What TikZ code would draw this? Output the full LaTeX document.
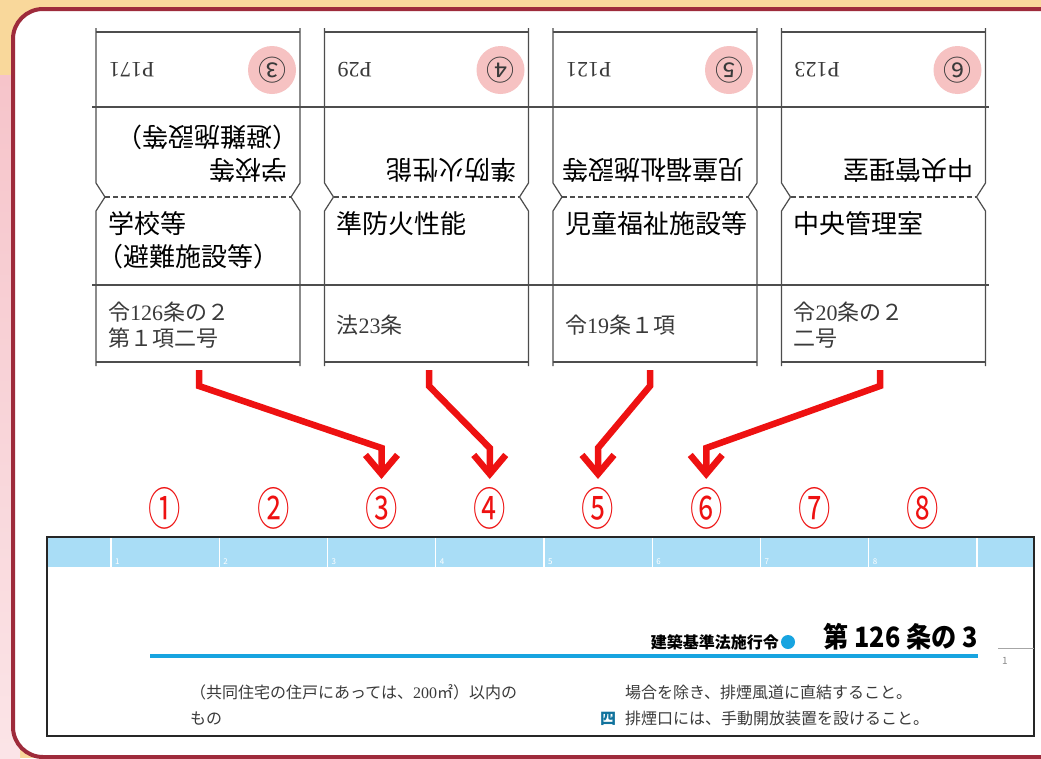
\documentclass[tikz,border=0pt]{standalone}
\usepackage{fontspec}
\setmainfont{Noto Sans CJK JP}
\newfontfamily\serifnum{Liberation Serif}
\usetikzlibrary{positioning,arrows.meta,calc}

\definecolor{bgpeach}{HTML}{F9D89B}
\definecolor{bgpink}{HTML}{F6C4CA}
\definecolor{framered}{HTML}{9E2B3B}
\definecolor{tabgray}{HTML}{4D4D4D}
\definecolor{pagepink}{HTML}{F6C2C2}
\definecolor{arrowred}{HTML}{EE1111}
\definecolor{bandblue}{HTML}{A9DDF6}
\definecolor{titleblue}{HTML}{18A4E0}
\definecolor{bodygray}{HTML}{3A3A3A}

\newcommand{\sn}[1]{{\serifnum #1}}

\begin{document}
\begin{tikzpicture}[x=1pt, y=-1pt,
    tabline/.style={draw=tabgray, line width=1.2pt},
    titletext/.style={anchor=north west, inner sep=0pt, align=left, font=\fontsize{26}{33}\selectfont},
    lawtext/.style={anchor=west, inner sep=0pt, align=left, text=bodygray, font=\fontsize{22}{26}\selectfont},
    pagetext/.style={anchor=east, inner sep=0pt, text=bodygray, font=\serifnum\fontsize{22}{26}\selectfont},
    marktext/.style={inner sep=0pt, text=bodygray, font=\fontsize{28}{28}\selectfont},
    numcirc/.style={inner sep=0pt, text=arrowred, xscale=0.72, font=\fontsize{45}{45}\selectfont},
    redarrow/.style={draw=arrowred, line width=6.5pt, -{Straight Barb[length=19pt, width=32pt]}},
    bodytext/.style={anchor=base west, inner sep=0pt, text=bodygray, font=\fontsize{16}{16}\selectfont}]

    \useasboundingbox (0,0) rectangle (1041,758);

    % background and frame
    \fill[bgpeach] (0,0) rectangle (1041,758);
    \shade[top color=bgpink, bottom color=bgpink!45] (0,75) rectangle (20,758);
    \draw[framered, fill=white, line width=4pt, rounded corners=30pt] (13,9) rectangle (1090,757);

    % tabs: lower face upright, upper face upside down
    \draw[tabline] (92,107) -- (989,107);
    \draw[tabline] (92,285) -- (989,285);
    \foreach \xl/\ttl/\law/\pg/\mk [count=\c] in {
        96/{学校等\\\hspace*{-0.4em}（避難施設等）}/{令\sn{126}条の２\\第１項二号}/P171/③,
        324.5/{準防火性能}/{法\sn{23}条}/P29/④,
        553/{児童福祉施設等}/{令\sn{19}条１項}/P121/⑤,
        781.5/{中央管理室}/{令\sn{20}条の２\\二号}/P123/⑥} {
        \pgfmathsetmacro\xr{\xl+204}
        \draw[tabline] (\xl,28) -- (\xl,183) -- (\xl+9,197) -- (\xl,211) -- (\xl,366);
        \draw[tabline] (\xr,28) -- (\xr,183) -- (\xr-9,197) -- (\xr,211) -- (\xr,366);
        \draw[tabline] (\xl,32) -- (\xr,32);
        \draw[tabline] (\xl,362) -- (\xr,362);
        \draw[tabline, dash pattern=on 5pt off 3pt] (\xl+9,197) -- (\xr-9,197);
        \node[titletext] (t\c) at (\xl+12,211) {\ttl};
        \node[lawtext] (l\c) at (\xl+12,325) {\law};
        \node[titletext, rotate=180] (tu\c) at (\xr-12,183) {\ttl};
        \fill[pagepink] (\xr-28,70) circle (24);
        \node[marktext, rotate=180] (m\c) at (\xr-28,70) {\mk};
        \node[pagetext, rotate=180] (p\c) at (\xl+13,70) {\pg};
    }

    % circled column numbers
    \foreach \k [count=\c] in {①,②,③,④,⑤,⑥,⑦,⑧}
        \node[numcirc] (n\c) at ({165+108.25*(\c-1)},508) {\k};

    % arrows from tabs to columns
    \coordinate (s1) at (199,370);
    \coordinate (s2) at (429,370);
    \coordinate (s3) at (650,370);
    \coordinate (s4) at (880,370);
    \foreach \s/\n in {1/3,2/4,3/5,4/6}
        \draw[redarrow] (s\s) -- ++(0,16) -- ($(n\n)+(0,-60)$) -- ($(n\n)+(0,-29)$);

    % page excerpt
    \fill[bandblue] (48,538) rectangle (1033,567);
    \foreach \k in {0,...,8}
        \draw[white, line width=1.2pt] ({111+108.25*\k},538) -- ++(0,29);
    \foreach \k in {1,...,8}
        \node[anchor=south west, inner sep=1pt, text=white, font=\fontsize{8}{8}\selectfont]
            (b\k) at ({111+108.25*(\k-1)+3},566) {\k};
    \draw[line width=1.5pt, black!85] (47,537) rectangle (1034,736);

    \draw[titleblue, line width=4pt] (150,656) -- (978,656);
    \node[anchor=base east, inner sep=0pt, xscale=0.9, font=\bfseries\fontsize{28}{28}\selectfont] (art) at (978,647) {第 126 条の 3};
    \fill[titleblue] (788,642) circle (7);
    \node[anchor=base east, inner sep=0pt, font=\bfseries\fontsize{16}{16}\selectfont] (law) at (779,648) {建築基準法施行令};
    \draw[black!35, line width=1pt] (998,648) -- (1034,648);
    \node[anchor=base west, inner sep=0pt, text=black!45, font=\fontsize{10}{10}\selectfont] (pg) at (1002,664) {1};

    \node[bodytext] (x1) at (190,698) {（共同住宅の住戸にあっては、\sn{200}㎡）以内の};
    \node[bodytext] (x2) at (190,724) {もの};
    \node[bodytext] (x3) at (625,698) {場合を除き、排煙風道に直結すること。};
    \node[bodytext, text=titleblue!70!black, font=\bfseries\fontsize{16}{16}\selectfont] (x4) at (600,724) {四};
    \node[bodytext] (x5) at (625,724) {排煙口には、手動開放装置を設けること。};

\end{tikzpicture}
\end{document}
